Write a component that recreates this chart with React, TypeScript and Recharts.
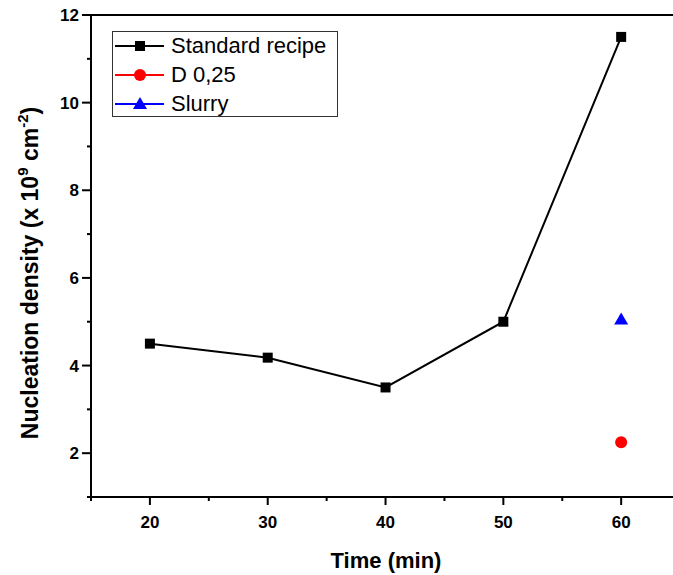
import React from 'react';
import { ComposedChart, Line, XAxis, YAxis, ReferenceLine } from 'recharts';

const FONT = '"Liberation Sans", Arial, Helvetica, sans-serif';

// ---- data ----
const standardTimes = [20, 30, 40, 50, 60];
const standardValues = [4.5, 4.18, 3.5, 5.0, 11.5];
const d025Times = [60];
const d025Values = [2.25];
const slurryTimes = [60];
const slurryValues = [5.05];

const seriesNames = ['Standard recipe', 'D 0,25', 'Slurry'];
const seriesColors = ['#000000', '#ff0000', '#0000ff'];
const seriesShapes = ['square', 'circle', 'triangle'];

const xTicks = [15, 20, 25, 30, 35, 40, 45, 50, 55, 60];
const yTicks = [1, 2, 3, 4, 5, 6, 7, 8, 9, 10, 11, 12];

const toPoints = (xs: number[], ys: number[]) => xs.map((x, i) => ({ x, y: ys[i] }));
const standardData = toPoints(standardTimes, standardValues);
const d025Data = toPoints(d025Times, d025Values);
const slurryData = toPoints(slurryTimes, slurryValues);

const Marker = ({ shape, cx, cy, color }: { shape: string; cx: number; cy: number; color: string }) => {
  if (shape === 'square') return <rect x={cx - 5} y={cy - 5} width={10} height={10} fill={color} />;
  if (shape === 'circle') return <circle cx={cx} cy={cy} r={6} fill={color} />;
  return <polygon points={`${cx},${cy - 7} ${cx - 7},${cy + 5} ${cx + 7},${cy + 5}`} fill={color} />;
};

const makeDot = (shape: string, color: string) => (props: any) => {
  const { cx, cy, index } = props;
  if (cx == null || cy == null) return <g key={index} />;
  return <Marker key={index} shape={shape} cx={cx} cy={cy} color={color} />;
};

const XTick = (props: any) => {
  const { x, y, payload } = props;
  const v = payload.value;
  const major = v % 10 === 0;
  return (
    <g>
      <line x1={x} x2={x} y1={y} y2={y + (major ? 8 : 4)} stroke="#000" strokeWidth={2} />
      {major && (
        <text x={x} y={y + 31} textAnchor="middle" fontFamily={FONT} fontWeight="bold" fontSize={17} fill="#000">
          {v}
        </text>
      )}
    </g>
  );
};

const YTick = (props: any) => {
  const { x, y, payload } = props;
  const v = payload.value;
  const major = v % 2 === 0;
  return (
    <g>
      <line x1={x} x2={x - (major ? 9 : 4)} y1={y} y2={y} stroke="#000" strokeWidth={2} />
      {major && (
        <text x={x - 12} y={y + 6} textAnchor="end" fontFamily={FONT} fontWeight="bold" fontSize={17} fill="#000">
          {v}
        </text>
      )}
    </g>
  );
};

const YTitle = () => (
  <text
    transform="translate(38,273) rotate(-90)"
    textAnchor="middle"
    fontFamily={FONT}
    fontWeight="bold"
    fontSize={23}
    fill="#000"
  >
    Nucleation density (x 10
    <tspan dy={-10} fontSize={15}>9</tspan>
    <tspan dy={10}> cm</tspan>
    <tspan dy={-10} fontSize={15}>-2</tspan>
    <tspan dy={10}>)</tspan>
  </text>
);

const XTitle = () => (
  <text x={386} y={568} textAnchor="middle" fontFamily={FONT} fontWeight="bold" fontSize={22} fill="#000">
    Time (min)
  </text>
);

const LegendBox = () => (
  <div
    style={{
      position: 'absolute',
      left: 112,
      top: 31,
      width: 226,
      height: 86,
      border: '1px solid #333',
      boxSizing: 'border-box',
    }}
  >
    {seriesNames.map((name, i) => (
      <div
        key={name}
        style={{
          position: 'absolute',
          left: 0,
          top: 15 + i * 29 - 14 - 1,
          height: 28,
          display: 'flex',
          alignItems: 'center',
          whiteSpace: 'nowrap',
        }}
      >
        <svg width={58} height={28} style={{ display: 'block' }}>
          <line x1={2} x2={51} y1={14} y2={14} stroke={seriesColors[i]} strokeWidth={2} />
          <Marker shape={seriesShapes[i]} cx={27} cy={14} color={seriesColors[i]} />
        </svg>
        <span style={{ fontFamily: FONT, fontSize: 22, color: '#000', lineHeight: '28px' }}>{name}</span>
      </div>
    ))}
  </div>
);

export default function App() {
  return (
    <div style={{ position: 'absolute', left: 0, top: 0, width: 673, height: 575, background: '#fff' }}>
      <ComposedChart width={673} height={575} margin={{ top: 15, right: 0, bottom: 0, left: 0 }}>
        <XAxis
          type="number"
          dataKey="x"
          domain={[15, 64.4]}
          ticks={xTicks}
          interval={0}
          allowDataOverflow
          height={78}
          tickSize={0}
          tickMargin={0}
          tick={<XTick />}
          axisLine={{ stroke: '#000', strokeWidth: 2 }}
          label={{ content: () => <XTitle /> }}
        />
        <YAxis
          type="number"
          dataKey="y"
          domain={[1, 12]}
          ticks={yTicks}
          interval={0}
          allowDataOverflow
          width={91}
          tickSize={0}
          tickMargin={0}
          tick={<YTick />}
          axisLine={{ stroke: '#000', strokeWidth: 2 }}
          label={{ content: () => <YTitle /> }}
        />
        <ReferenceLine y={12} stroke="#000" strokeWidth={2} />
        <Line
          data={standardData}
          dataKey="y"
          name={seriesNames[0]}
          stroke={seriesColors[0]}
          strokeWidth={2}
          dot={makeDot(seriesShapes[0], seriesColors[0])}
          activeDot={false}
          isAnimationActive={false}
        />
        <Line
          data={d025Data}
          dataKey="y"
          name={seriesNames[1]}
          stroke={seriesColors[1]}
          strokeWidth={2}
          dot={makeDot(seriesShapes[1], seriesColors[1])}
          activeDot={false}
          isAnimationActive={false}
        />
        <Line
          data={slurryData}
          dataKey="y"
          name={seriesNames[2]}
          stroke={seriesColors[2]}
          strokeWidth={2}
          dot={makeDot(seriesShapes[2], seriesColors[2])}
          activeDot={false}
          isAnimationActive={false}
        />
      </ComposedChart>
      <LegendBox />
    </div>
  );
}
